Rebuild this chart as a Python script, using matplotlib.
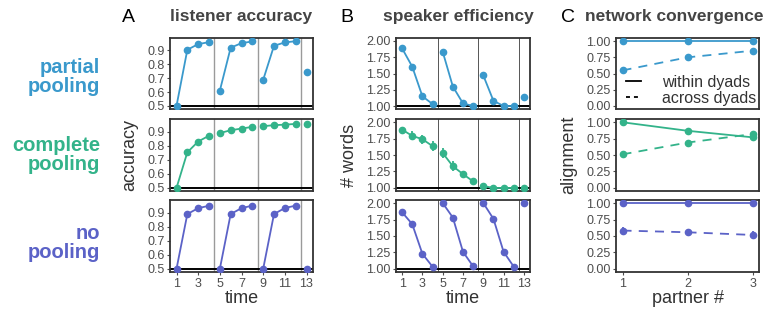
import matplotlib
matplotlib.use("Agg")
import matplotlib.pyplot as plt
import numpy as np

plt.rcParams['font.family'] = ['Liberation Sans', 'DejaVu Sans']

# ---- data ----
conditions = ["partial\npooling", "complete\npooling", "no\npooling"]
colors = ["#3a99cc", "#33b38a", "#5b62c7"]

time = np.arange(1, 14)
blocks = [[0, 1, 2, 3], [4, 5, 6, 7], [8, 9, 10, 11], [12]]

acc_partial = [0.50, 0.905, 0.946, 0.96, 0.61, 0.92, 0.953, 0.965, 0.688, 0.934, 0.958, 0.967, 0.746]
acc_complete = [0.50, 0.753, 0.83, 0.871, 0.89, 0.91, 0.922, 0.934, 0.939, 0.946, 0.95, 0.955, 0.955]
acc_none = [0.50, 0.89, 0.932, 0.949, 0.50, 0.89, 0.932, 0.95, 0.50, 0.89, 0.933, 0.95, 0.50]

words_partial = [1.887, 1.605, 1.15, 1.03, 1.835, 1.30, 1.04, 1.0, 1.47, 1.08, 1.0, 1.0, 1.14]
words_partial_err = [0, 0, 0, 0, 0, 0, 0, 0, 0.04, 0, 0, 0, 0]
words_complete = [1.885, 1.79, 1.74, 1.635, 1.53, 1.33, 1.21, 1.10, 1.03, 1.0, 1.0, 1.0, 1.0]
words_complete_err = [0.03, 0.07, 0.07, 0.08, 0.07, 0.08, 0.05, 0.03, 0, 0, 0, 0, 0]
words_none = [1.86, 1.68, 1.23, 1.035, 2.0, 1.78, 1.26, 1.04, 2.0, 1.76, 1.26, 1.035, 2.0]

partner = [1, 2, 3]
within = [[1.0, 1.0, 1.0], [1.0, 0.87, 0.77], [1.0, 1.0, 1.0]]
across = [[0.548, 0.75, 0.853], [0.51, 0.69, 0.82], [0.583, 0.557, 0.516]]
across_err = [[0.05, 0.03, 0.01], [0.01, 0.01, 0.01], [0.06, 0.05, 0.06]]

acc = [acc_partial, acc_complete, acc_none]
words = [words_partial, words_complete, words_none]
words_err = [words_partial_err, words_complete_err, [0] * 13]

# ---- layout (pixels) ----
W, H = 769, 313
fig = plt.figure(figsize=(W / 100, H / 100), dpi=100)

cols_px = [(170, 313), (396, 530), (616, 759)]
rows_px = [(38, 109), (119, 191), (200, 272)]

tick_col = "#4d4d4d"
frame_col = "#333333"
lab_kw = dict(fontsize=13, color="#333333")


def make_ax(c, r):
    x0, x1 = cols_px[c]
    y0, y1 = rows_px[r]
    ax = fig.add_axes([x0 / W, 1 - y1 / H, (x1 - x0) / W, (y1 - y0) / H])
    for s in ax.spines.values():
        s.set_color(frame_col)
        s.set_linewidth(1.3)
    ax.tick_params(colors=tick_col, labelcolor=tick_col, labelsize=9,
                   length=2.5, width=0.8, pad=1.5)
    return ax


def draw_time(ax, y, yerr, color, vcol, vlw):
    for v in [4.5, 8.5, 12.5]:
        ax.axvline(v, color=vcol, lw=vlw, zorder=1)
    for b in blocks:
        ax.plot(time[b], np.array(y)[b], color=color, lw=1.3, zorder=3)
        e = np.array(yerr)[b]
        ax.errorbar(time[b], np.array(y)[b], yerr=e, fmt="o", color=color,
                    ms=4.5, elinewidth=1.3, capsize=0, zorder=4)


for r in range(3):
    col = colors[r]
    # A: listener accuracy
    ax = make_ax(0, r)
    ax.axhline(0.5, color="black", lw=1.4, zorder=2)
    draw_time(ax, acc[r], [0] * 13, col, "#9a9a9a", 1.0)
    ax.set_xlim(0.4, 13.6)
    ax.set_ylim(0.478, 0.99)
    ax.set_yticks([0.5, 0.6, 0.7, 0.8, 0.9])
    ax.set_xticks([1, 3, 5, 7, 9, 11, 13])
    if r == 1:
        ax.set_ylabel("accuracy", labelpad=6, **lab_kw)
    if r == 2:
        ax.set_xlabel("time", labelpad=0, **lab_kw)
    else:
        ax.tick_params(axis="x", bottom=False, labelbottom=False)

    # B: speaker efficiency
    ax = make_ax(1, r)
    ax.axhline(1.0, color="black", lw=1.4, zorder=2)
    draw_time(ax, words[r], words_err[r], col, "#555555", 0.7)
    ax.set_xlim(0.4, 13.6)
    ax.set_ylim(0.954, 2.046)
    ax.set_yticks([1.0, 1.25, 1.5, 1.75, 2.0])
    ax.set_yticklabels(["1.00", "1.25", "1.50", "1.75", "2.00"])
    ax.set_xticks([1, 3, 5, 7, 9, 11, 13])
    if r == 1:
        ax.set_ylabel("# words", labelpad=6, **lab_kw)
    if r == 2:
        ax.set_xlabel("time", labelpad=0, **lab_kw)
    else:
        ax.tick_params(axis="x", bottom=False, labelbottom=False)

    # C: network convergence
    ax = make_ax(2, r)
    ax.plot(partner, within[r], color=col, lw=1.3, ls="-", zorder=3)
    ax.plot(partner, within[r], "o", color=col, ms=4.5, zorder=4)
    ax.plot(partner, across[r], color=col, lw=1.3, ls=(0, (5, 4)), zorder=3)
    ax.errorbar(partner, across[r], yerr=across_err[r], fmt="o", color=col,
                ms=4.5, elinewidth=1.3, capsize=0, zorder=4)
    ax.set_xlim(0.9, 3.1)
    ax.set_ylim(-0.05, 1.05)
    ax.set_yticks([0, 0.25, 0.5, 0.75, 1.0])
    ax.set_yticklabels(["0.00", "0.25", "0.50", "0.75", "1.00"])
    ax.set_xticks([1, 2, 3])
    if r == 0:
        h1, = ax.plot([], [], color="black", lw=1.3, ls="-")
        h2, = ax.plot([], [], color="black", lw=1.3, ls=(0, (2.2, 2.2)))
        ax.legend([h1, h2], ["within dyads", "across dyads"], loc="lower right",
                  frameon=False, fontsize=11.5, handlelength=0.9,
                  handletextpad=1.3, labelspacing=0.05, borderpad=0.1,
                  borderaxespad=0.1, labelcolor="#333333")
    if r == 1:
        ax.set_ylabel("alignment", labelpad=6, **lab_kw)
    if r == 2:
        ax.set_xlabel("partner #", labelpad=0, **lab_kw)
    else:
        ax.tick_params(axis="x", bottom=False, labelbottom=False)

    # row label
    yc = [77, 155, 243][r]
    fig.text(100 / W, 1 - yc / H, conditions[r], ha="right", va="center",
             fontsize=14.5, fontweight="bold", color=col, linespacing=1.05)

# titles and panel letters
for x, t in zip([241, 458, 674], ["listener accuracy", "speaker efficiency", "network convergence"]):
    fig.text(x / W, 1 - 17 / H, t, ha="center", va="center", fontsize=12.5,
             fontweight="bold", color="#444444")
for x, t in zip([128, 347, 568], ["A", "B", "C"]):
    fig.text(x / W, 1 - 17 / H, t, ha="center", va="center", fontsize=14,
             color="black")

fig.savefig("out.png", dpi=100)
